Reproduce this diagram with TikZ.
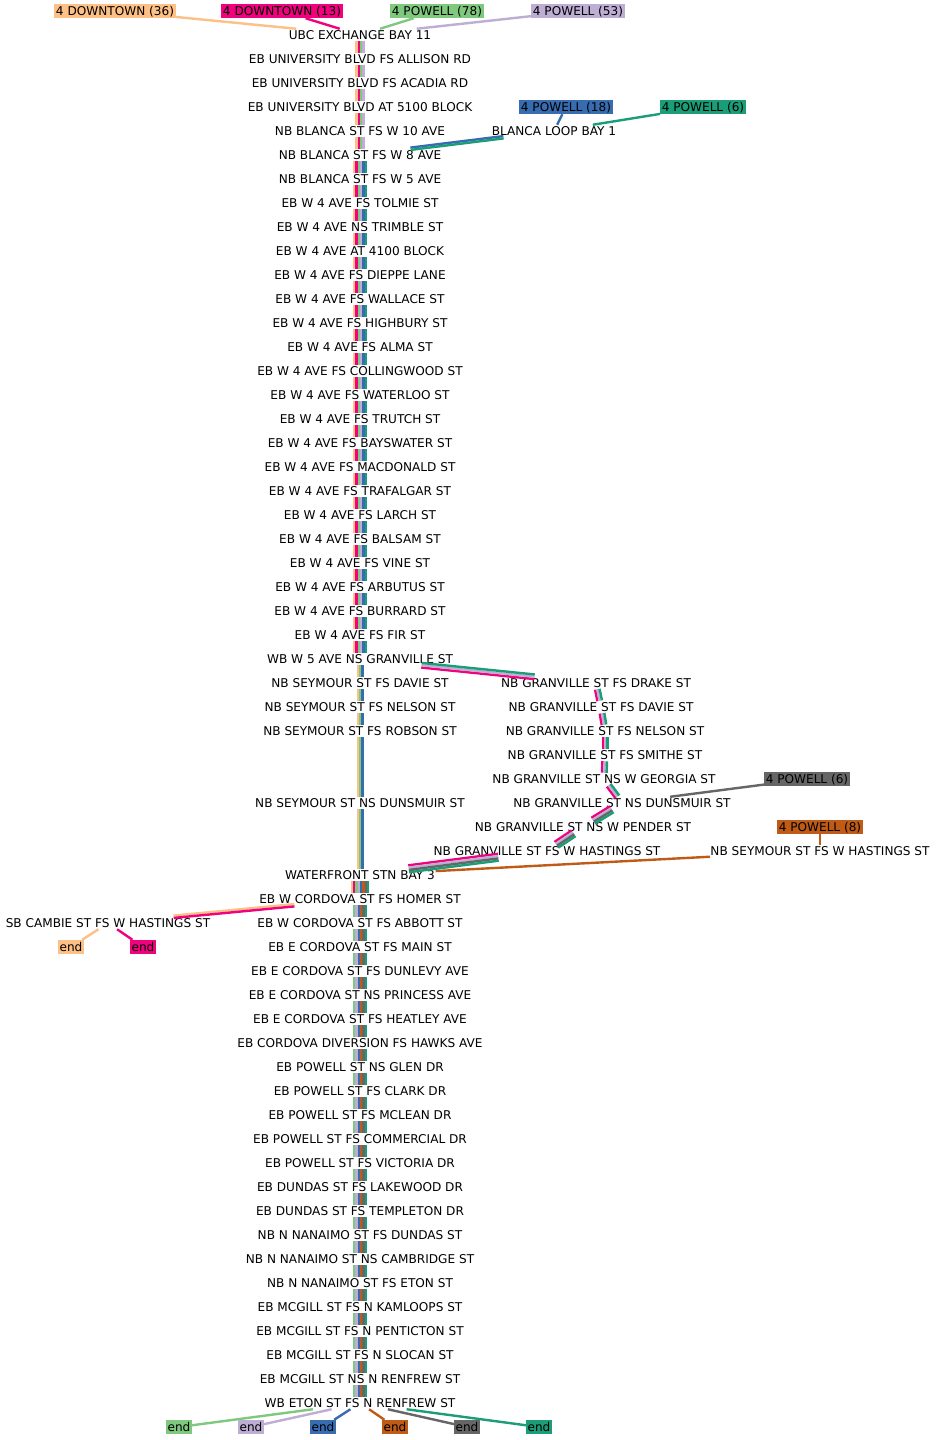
\documentclass[tikz,border=0pt]{standalone}
\usepackage{fontspec}
\setmainfont{DejaVu Sans}
\usetikzlibrary{calc}
\definecolor{rOrange}{HTML}{FDC086}
\definecolor{rPink}{HTML}{F0027F}
\definecolor{rGreen}{HTML}{7FC97F}
\definecolor{rLav}{HTML}{BEAED4}
\definecolor{rBlue}{HTML}{386CB0}
\definecolor{rBrown}{HTML}{BF5B17}
\definecolor{rGray}{HTML}{666666}
\definecolor{rTeal}{HTML}{1B9E77}
% parallel route lines between two stops
\newcommand\bundle[3]{%
  \edef\rlist{#3}%
  \foreach \rc [count=\rn] in \rlist {\xdef\rnum{\rn}}%
  \foreach \rc [count=\rk] in \rlist {%
    \pgfmathsetmacro\off{(\rk-0.5-\rnum/2)*2.3}%
    \draw[rt=\rc, transform canvas={shift={($(#1)!\off pt!90:(#2)-(#1)$)}}] (#1) -- (#2);%
  }}

\begin{document}
\begin{tikzpicture}[x=1pt, y=-1pt,
  stop/.style={font=\fontsize{12.1}{14}\selectfont, inner xsep=0.5pt, inner ysep=0pt,
    text height=10.5pt, text depth=1.6pt},
  tag/.style={stop, fill=#1, inner xsep=1.5pt, inner ysep=1pt},
  rt/.style={draw=#1, line width=2.4pt},
]
  \fill[white] (0,0) rectangle (937,1440);
  \useasboundingbox (0,0) rectangle (937,1440);

  \foreach \y/\t [count=\i] in {
    35/UBC EXCHANGE BAY 11, 59/EB UNIVERSITY BLVD FS ALLISON RD,
    83/EB UNIVERSITY BLVD FS ACADIA RD, 107/EB UNIVERSITY BLVD AT 5100 BLOCK,
    131/NB BLANCA ST FS W 10 AVE, 155/NB BLANCA ST FS W 8 AVE,
    179/NB BLANCA ST FS W 5 AVE, 203/EB W 4 AVE FS TOLMIE ST,
    227/EB W 4 AVE NS TRIMBLE ST, 251/EB W 4 AVE AT 4100 BLOCK,
    275/EB W 4 AVE FS DIEPPE LANE, 299/EB W 4 AVE FS WALLACE ST,
    323/EB W 4 AVE FS HIGHBURY ST, 347/EB W 4 AVE FS ALMA ST,
    371/EB W 4 AVE FS COLLINGWOOD ST, 395/EB W 4 AVE FS WATERLOO ST,
    419/EB W 4 AVE FS TRUTCH ST, 443/EB W 4 AVE FS BAYSWATER ST,
    467/EB W 4 AVE FS MACDONALD ST, 491/EB W 4 AVE FS TRAFALGAR ST,
    515/EB W 4 AVE FS LARCH ST, 539/EB W 4 AVE FS BALSAM ST,
    563/EB W 4 AVE FS VINE ST, 587/EB W 4 AVE FS ARBUTUS ST,
    611/EB W 4 AVE FS BURRARD ST, 635/EB W 4 AVE FS FIR ST,
    659/WB W 5 AVE NS GRANVILLE ST, 683/NB SEYMOUR ST FS DAVIE ST,
    707/NB SEYMOUR ST FS NELSON ST, 731/NB SEYMOUR ST FS ROBSON ST,
    803/NB SEYMOUR ST NS DUNSMUIR ST, 875/WATERFRONT STN BAY 3,
    899/EB W CORDOVA ST FS HOMER ST, 923/EB W CORDOVA ST FS ABBOTT ST,
    947/EB E CORDOVA ST FS MAIN ST, 971/EB E CORDOVA ST FS DUNLEVY AVE,
    995/EB E CORDOVA ST NS PRINCESS AVE, 1019/EB E CORDOVA ST FS HEATLEY AVE,
    1043/EB CORDOVA DIVERSION FS HAWKS AVE, 1067/EB POWELL ST NS GLEN DR,
    1091/EB POWELL ST FS CLARK DR, 1115/EB POWELL ST FS MCLEAN DR,
    1139/EB POWELL ST FS COMMERCIAL DR, 1163/EB POWELL ST FS VICTORIA DR,
    1187/EB DUNDAS ST FS LAKEWOOD DR, 1211/EB DUNDAS ST FS TEMPLETON DR,
    1235/NB N NANAIMO ST FS DUNDAS ST, 1259/NB N NANAIMO ST NS CAMBRIDGE ST,
    1283/NB N NANAIMO ST FS ETON ST, 1307/EB MCGILL ST FS N KAMLOOPS ST,
    1331/EB MCGILL ST FS N PENTICTON ST, 1355/EB MCGILL ST FS N SLOCAN ST,
    1379/EB MCGILL ST NS N RENFREW ST, 1403/WB ETON ST FS N RENFREW ST}
    \node[stop] (m\i) at (360,\y) {\t};

  \foreach \x/\y/\t [count=\i] in {
    596/683/NB GRANVILLE ST FS DRAKE ST, 601/707/NB GRANVILLE ST FS DAVIE ST,
    605/731/NB GRANVILLE ST FS NELSON ST, 605/755/NB GRANVILLE ST FS SMITHE ST,
    604/779/NB GRANVILLE ST NS W GEORGIA ST, 622/803/NB GRANVILLE ST NS DUNSMUIR ST,
    583/827/NB GRANVILLE ST NS W PENDER ST, 547/851/NB GRANVILLE ST FS W HASTINGS ST}
    \node[stop] (g\i) at (\x,\y) {\t};

  \node[stop] (loop) at (554,131) {BLANCA LOOP BAY 1};
  \node[stop] (hast) at (820,851) {NB SEYMOUR ST FS W HASTINGS ST};
  \node[stop] (cambie) at (108,923) {SB CAMBIE ST FS W HASTINGS ST};

  \node[tag=rOrange] (dt36) at (115,11) {4 DOWNTOWN (36)};
  \node[tag=rPink] (dt13) at (282,11) {4 DOWNTOWN (13)};
  \node[tag=rGreen] (pw78) at (437,11) {4 POWELL (78)};
  \node[tag=rLav] (pw53) at (578,11) {4 POWELL (53)};
  \node[tag=rBlue] (pw18) at (566,107) {4 POWELL (18)};
  \node[tag=rTeal] (pw6a) at (703,107) {4 POWELL (6)};
  \node[tag=rGray] (pw6b) at (807,779) {4 POWELL (6)};
  \node[tag=rBrown] (pw8) at (820,827) {4 POWELL (8)};
  \node[tag=rOrange] (endA) at (71,947) {end};
  \node[tag=rPink] (endB) at (143,947) {end};

  \bundle{dt36}{m1}{rOrange}
  \bundle{dt13}{m1}{rPink}
  \bundle{pw78}{m1}{rGreen}
  \bundle{pw53}{m1}{rLav}
  \bundle{pw18}{loop}{rBlue}
  \bundle{pw6a}{loop}{rTeal}
  \bundle{loop}{m6}{rBlue,rTeal}
  \bundle{pw6b}{g6}{rGray}
  \bundle{pw8}{hast}{rBrown}
  \bundle{hast}{m32}{rBrown}

  \foreach \a [evaluate=\a as \b using int(\a+1)] in {1,...,5}
    {\bundle{m\a}{m\b}{rOrange,rPink,rGreen,rLav}}
  \foreach \a [evaluate=\a as \b using int(\a+1)] in {6,...,26}
    {\bundle{m\a}{m\b}{rOrange,rPink,rGreen,rLav,rBlue,rTeal}}
  \foreach \a [evaluate=\a as \b using int(\a+1)] in {27,...,31}
    {\bundle{m\a}{m\b}{rOrange,rGreen,rBlue}}
  \bundle{m32}{m33}{rOrange,rPink,rGreen,rLav,rBlue,rBrown,rGray,rTeal}
  \foreach \a [evaluate=\a as \b using int(\a+1)] in {33,...,53}
    {\bundle{m\a}{m\b}{rGreen,rLav,rBlue,rBrown,rGray,rTeal}}

  \bundle{m27}{g1}{rPink,rLav,rTeal}
  \foreach \a [evaluate=\a as \b using int(\a+1)] in {1,...,5}
    {\bundle{g\a}{g\b}{rPink,rLav,rTeal}}
  \bundle{g6}{g7}{rPink,rLav,rGray,rTeal}
  \bundle{g7}{g8}{rPink,rLav,rGray,rTeal}
  \bundle{g8}{m32}{rPink,rLav,rGray,rTeal}

  \bundle{m33}{cambie}{rOrange,rPink}
  \bundle{cambie}{endA}{rOrange}
  \bundle{cambie}{endB}{rPink}

  \foreach \x/\c [count=\i] in {179/rGreen, 251/rLav, 323/rBlue, 395/rBrown, 467/rGray, 539/rTeal} {
    \node[tag=\c] (end\i) at (\x,1427) {end};
    \bundle{m54}{end\i}{\c}
  }
\end{tikzpicture}
\end{document}
